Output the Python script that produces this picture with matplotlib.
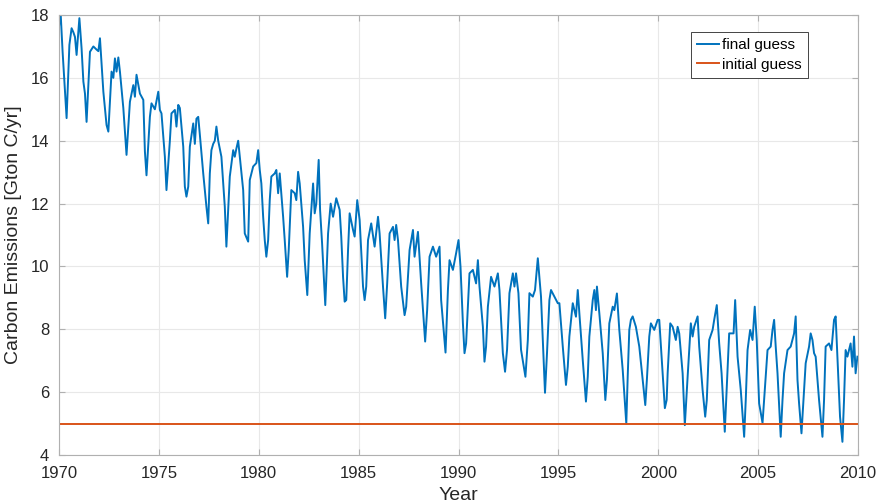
import matplotlib.pyplot as plt

# carbon emission estimate after inversion (decimal year, Gton C/yr)
years = [
    1970.00, 1970.07, 1970.18, 1970.30, 1970.38, 1970.52, 1970.63, 1970.72, 1970.80, 1970.88,
    1971.02, 1971.13, 1971.22, 1971.30, 1971.38, 1971.55, 1971.72, 1971.88, 1971.97,
    1972.05, 1972.22, 1972.38, 1972.47, 1972.63, 1972.72, 1972.80, 1972.88, 1972.97,
    1973.05, 1973.22, 1973.38, 1973.55, 1973.72, 1973.80, 1973.88,
    1974.05, 1974.22, 1974.30, 1974.38, 1974.55, 1974.63, 1974.80, 1974.97,
    1975.05, 1975.13, 1975.30, 1975.38, 1975.55, 1975.63, 1975.80, 1975.88, 1975.97,
    1976.05, 1976.22, 1976.30, 1976.38, 1976.47, 1976.55, 1976.72, 1976.80, 1976.88, 1976.97,
    1977.05, 1977.22, 1977.38, 1977.47, 1977.55, 1977.63, 1977.72, 1977.80, 1977.88, 1977.97,
    1978.13, 1978.30, 1978.38, 1978.55, 1978.72, 1978.80, 1978.88, 1978.97,
    1979.05, 1979.22, 1979.30, 1979.47, 1979.55, 1979.72, 1979.88, 1979.97,
    1980.05, 1980.13, 1980.22, 1980.30, 1980.38, 1980.47, 1980.55, 1980.63, 1980.80, 1980.88, 1980.97,
    1981.05, 1981.22, 1981.30, 1981.42, 1981.50, 1981.63, 1981.80, 1981.88, 1981.97,
    1982.05, 1982.22, 1982.30, 1982.43, 1982.55, 1982.72, 1982.80, 1982.88,
    1983.00, 1983.07, 1983.17, 1983.33, 1983.47, 1983.60, 1983.72, 1983.88,
    1984.05, 1984.13, 1984.22, 1984.30, 1984.38, 1984.47, 1984.55, 1984.72, 1984.80, 1984.93,
    1985.05, 1985.22, 1985.30, 1985.38, 1985.47, 1985.63, 1985.80, 1985.97,
    1986.05, 1986.22, 1986.33, 1986.43, 1986.55, 1986.72, 1986.80, 1986.88, 1986.97,
    1987.13, 1987.30, 1987.38, 1987.55, 1987.72, 1987.80, 1987.97,
    1988.13, 1988.33, 1988.43, 1988.55, 1988.72, 1988.88,
    1989.05, 1989.13, 1989.35, 1989.47, 1989.55, 1989.72, 1989.88,
    1990.00, 1990.10, 1990.22, 1990.30, 1990.38, 1990.55, 1990.72, 1990.88, 1990.97,
    1991.05, 1991.22, 1991.30, 1991.38, 1991.47, 1991.63, 1991.80, 1991.97,
    1992.05, 1992.22, 1992.33, 1992.43, 1992.55, 1992.72, 1992.80, 1992.88,
    1993.00, 1993.13, 1993.35, 1993.47, 1993.55, 1993.72, 1993.83, 1993.97,
    1994.13, 1994.22, 1994.33, 1994.43, 1994.55, 1994.63, 1994.80, 1994.97,
    1995.05, 1995.22, 1995.38, 1995.47, 1995.55, 1995.72, 1995.88, 1995.97,
    1996.05, 1996.22, 1996.38, 1996.47, 1996.55, 1996.72, 1996.80, 1996.88, 1996.93,
    1997.05, 1997.22, 1997.35, 1997.43, 1997.55, 1997.72, 1997.80, 1997.93,
    1998.05, 1998.22, 1998.40, 1998.47, 1998.55, 1998.63, 1998.72, 1998.88,
    1999.05, 1999.22, 1999.35, 1999.43, 1999.55, 1999.63, 1999.80, 1999.97,
    2000.05, 2000.22, 2000.33, 2000.42, 2000.47, 2000.60, 2000.72, 2000.88, 2000.97,
    2001.05, 2001.22, 2001.33, 2001.40, 2001.47, 2001.63, 2001.72, 2001.80, 2001.97,
    2002.05, 2002.22, 2002.35, 2002.43, 2002.55, 2002.72, 2002.80, 2002.93,
    2003.05, 2003.17, 2003.33, 2003.40, 2003.55, 2003.67, 2003.77, 2003.85, 2003.97,
    2004.13, 2004.30, 2004.38, 2004.47, 2004.60, 2004.72, 2004.83, 2004.93,
    2005.05, 2005.22, 2005.30, 2005.47, 2005.63, 2005.72, 2005.80, 2005.88, 2005.97,
    2006.13, 2006.22, 2006.30, 2006.47, 2006.63, 2006.80, 2006.88, 2006.97,
    2007.05, 2007.17, 2007.27, 2007.38, 2007.55, 2007.63, 2007.72, 2007.80, 2007.88,
    2008.05, 2008.22, 2008.30, 2008.38, 2008.55, 2008.67, 2008.80, 2008.88, 2008.97,
    2009.10, 2009.22, 2009.30, 2009.38, 2009.47, 2009.63, 2009.72, 2009.80, 2009.88, 2009.97,
]
final_guess = [
    17.63, 18.20, 16.83, 15.56, 14.72, 17.05, 17.58, 17.45, 17.30, 16.73,
    17.90, 16.94, 15.88, 15.50, 14.60, 16.83, 17.00, 16.90, 16.85,
    17.26, 15.56, 14.50, 14.29, 16.20, 16.00, 16.62, 16.20, 16.65,
    16.20, 15.04, 13.55, 15.24, 15.77, 15.40, 16.10,
    15.50, 15.30, 13.66, 12.90, 14.76, 15.19, 15.00, 15.56,
    14.98, 14.87, 13.49, 12.43, 14.00, 14.87, 14.98, 14.45, 15.14,
    15.04, 13.81, 12.54, 12.22, 12.54, 13.81, 14.55, 13.90, 14.70, 14.76,
    14.20, 12.96, 11.90, 11.37, 12.96, 13.70, 13.90, 14.00, 14.45, 14.00,
    13.49, 11.90, 10.63, 12.86, 13.70, 13.49, 13.75, 14.00,
    13.49, 12.43, 11.05, 10.79, 12.75, 13.18, 13.29, 13.70,
    13.07, 12.64, 11.58, 10.84, 10.31, 10.84, 12.11, 12.86, 12.96, 13.07, 12.33,
    12.96, 11.58, 10.84, 9.67, 10.52, 12.43, 12.33, 12.11, 13.01,
    12.64, 11.26, 10.20, 9.09, 11.05, 12.64, 11.69, 12.00,
    13.39, 11.80, 10.74, 8.77, 11.05, 12.00, 11.58, 12.17,
    11.80, 10.95, 9.67, 8.88, 8.93, 10.52, 11.69, 11.16, 10.95, 12.11,
    11.48, 9.36, 8.93, 9.36, 10.84, 11.37, 10.63, 11.58,
    11.05, 9.36, 8.35, 9.47, 11.05, 11.26, 10.84, 11.32, 10.84,
    9.36, 8.45, 8.72, 10.52, 11.16, 10.31, 11.10,
    9.47, 7.61, 8.61, 10.31, 10.63, 10.31,
    10.63, 8.93, 7.26, 9.25, 10.20, 9.89, 10.42,
    10.84, 9.99, 8.19, 7.24, 7.55, 9.78, 9.89, 9.46, 10.20,
    9.36, 8.08, 6.97, 7.45, 8.72, 9.67, 9.36, 9.78,
    9.25, 7.24, 6.65, 7.35, 9.15, 9.78, 9.36, 9.78,
    9.15, 7.35, 6.49, 7.66, 9.15, 9.04, 9.25, 10.26,
    9.04, 7.66, 5.98, 7.24, 8.93, 9.25, 9.04, 8.83,
    8.83, 7.45, 6.23, 6.81, 7.77, 8.83, 8.40, 9.25,
    8.51, 7.02, 5.70, 6.49, 7.77, 8.93, 9.25, 8.61, 9.36,
    8.51, 7.24, 5.75, 6.39, 8.19, 8.72, 8.61, 9.14,
    7.98, 6.71, 5.00, 6.49, 7.98, 8.30, 8.41, 8.08,
    7.45, 6.39, 5.59, 6.39, 7.77, 8.19, 7.98, 8.30,
    8.30, 6.60, 5.49, 5.75, 6.60, 8.19, 8.08, 7.66, 8.08,
    7.87, 6.60, 4.95, 5.75, 6.49, 8.19, 7.77, 8.08, 8.41,
    7.45, 6.07, 5.22, 5.75, 7.66, 7.98, 8.30, 8.77,
    7.55, 6.60, 4.74, 5.75, 7.87, 7.87, 7.87, 8.93, 7.13,
    6.07, 4.58, 5.75, 7.34, 7.98, 7.66, 8.72, 7.66,
    5.64, 5.02, 5.75, 7.34, 7.45, 7.98, 8.30, 7.45, 6.60,
    4.58, 5.75, 6.60, 7.34, 7.45, 7.87, 8.41, 6.39,
    5.64, 4.69, 5.75, 6.92, 7.45, 7.87, 7.66, 7.24, 7.13,
    5.75, 4.58, 5.75, 7.45, 7.55, 7.34, 8.30, 8.41, 7.13,
    5.22, 4.42, 5.75, 7.34, 7.13, 7.55, 6.81, 7.77, 6.60, 7.13,
]

# prior (flat) emission value
span = [1970, 2010]
initial_guess = [5.0, 5.0]

plt.rcParams['font.family'] = ['Liberation Sans', 'DejaVu Sans']

fig = plt.figure(figsize=(8.82, 5.04), dpi=100)
ax = fig.add_axes([0.0669, 0.0972, 0.9059, 0.873])

ax.plot(years, final_guess, color='#0072BD', lw=1.4, label='final guess')
ax.plot(span, initial_guess, color='#D95319', lw=1.4, label='initial guess')

ax.set_xlim(1970, 2010)
ax.set_ylim(4, 18)
ax.set_xticks(range(1970, 2011, 5))
ax.set_yticks(range(4, 19, 2))
ax.grid(True, color='#e8e8e8', lw=0.8)
ax.set_axisbelow(True)
for s in ax.spines.values():
    s.set_color('#b0b0b0')
    s.set_linewidth(0.8)
ax.tick_params(direction='in', length=4, width=0.8, color='#b0b0b0',
               labelcolor='#262626', labelsize=12, top=True, right=True)
ax.tick_params(axis='x', pad=8)
ax.tick_params(axis='y', pad=7)

ax.set_xlabel('Year', fontsize=14, color='#262626', labelpad=4)
ax.set_ylabel('Carbon Emissions [Gton C/yr]', fontsize=14, color='#262626', labelpad=6)

leg = ax.legend(loc='upper right', bbox_to_anchor=(0.937, 0.961), borderaxespad=0,
                fontsize=11, fancybox=False, handlelength=1.4, handletextpad=0.2,
                borderpad=0.4, labelspacing=0.35, framealpha=1)
leg.get_frame().set_edgecolor('#262626')
leg.get_frame().set_linewidth(0.6)

fig.savefig('out.png', dpi=100)
